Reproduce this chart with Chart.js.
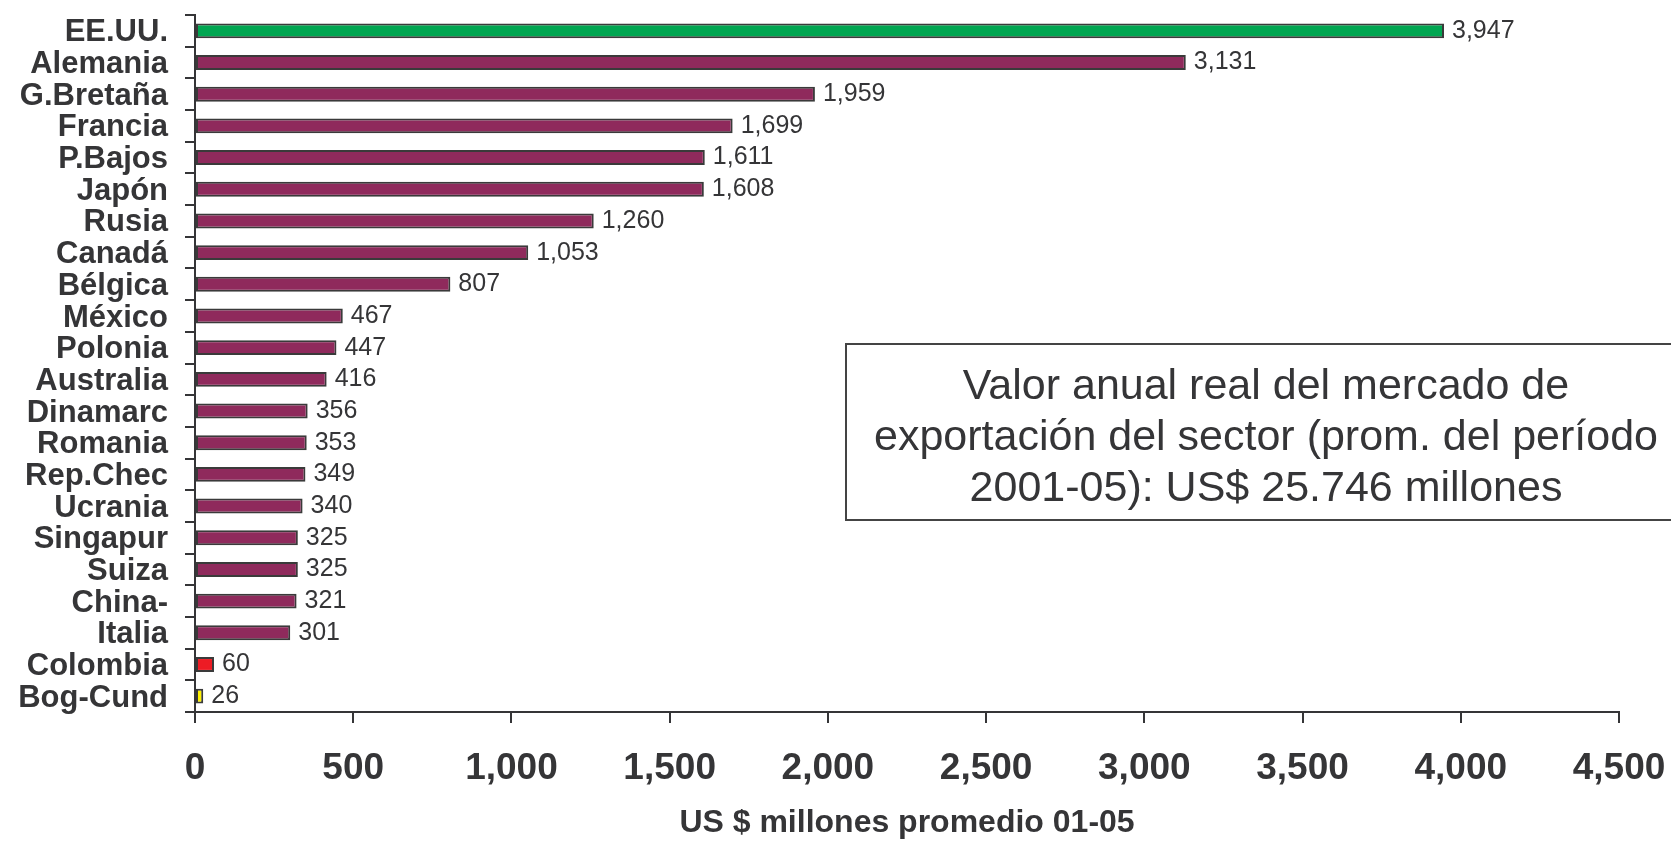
<!DOCTYPE html>
<html lang="es">
<head>
    <meta charset="UTF-8">
    <title>Valor anual del mercado de exportación</title>
    <style>
        html, body {
            margin: 0;
            padding: 0;
            background: #fff;
        }
        canvas {
            display: block;
        }
    </style>
    <script src="https://cdn.jsdelivr.net/npm/chart.js@4.4.1/dist/chart.umd.min.js"></script>
</head>
<body>
    <canvas id="barChart" width="1671" height="843"></canvas>

    <script>
        // Data (US$ millones, promedio 2001-05)
        const countries = ['EE.UU.', 'Alemania', 'G.Bretaña', 'Francia', 'P.Bajos', 'Japón', 'Rusia', 'Canadá',
            'Bélgica', 'México', 'Polonia', 'Australia', 'Dinamarc', 'Romania', 'Rep.Chec', 'Ucrania',
            'Singapur', 'Suiza', 'China-', 'Italia', 'Colombia', 'Bog-Cund'];
        const values = [3947, 3131, 1959, 1699, 1611, 1608, 1260, 1053, 807, 467, 447, 416,
            356, 353, 349, 340, 325, 325, 321, 301, 60, 26];
        const xTicks = [0, 500, 1000, 1500, 2000, 2500, 3000, 3500, 4000, 4500];
        const axisTitle = 'US $ millones promedio 01-05';
        const noteLines = [
            'Valor anual real del mercado de',
            'exportación del sector (prom. del período',
            '2001-05): US$ 25.746 millones'
        ];

        const green = '#00a651';
        const purple = '#8f2a5c';
        const red = '#ed1c24';
        const yellow = '#fff200';
        const ink = '#353537';

        // first bar green, Colombia red, Bogotá-Cundinamarca yellow, rest purple
        const barColors = countries.map(function (c) {
            if (c === 'EE.UU.') return green;
            if (c === 'Colombia') return red;
            if (c === 'Bog-Cund') return yellow;
            return purple;
        });

        const fmt = function (v) {
            return Number(v).toLocaleString('en-US');
        };

        // value labels at the end of each bar
        const valueLabels = {
            id: 'valueLabels',
            afterDatasetsDraw(chart) {
                const ctx = chart.ctx;
                const meta = chart.getDatasetMeta(0);
                ctx.save();
                ctx.font = '25px "Liberation Sans", Arial, sans-serif';
                ctx.fillStyle = ink;
                ctx.textAlign = 'left';
                ctx.textBaseline = 'middle';
                meta.data.forEach(function (bar, i) {
                    ctx.fillText(fmt(values[i]), bar.x + 8, bar.y);
                });
                ctx.restore();
            }
        };

        // boxed note on the right side of the plot
        const noteBox = {
            id: 'noteBox',
            afterDraw(chart) {
                const ctx = chart.ctx;
                const area = chart.chartArea;
                const left = area.left + 651;
                const top = area.top + 329;
                const bottom = area.top + 505;
                ctx.save();
                ctx.fillStyle = '#fff';
                ctx.fillRect(left, top, chart.width + 10 - left, bottom - top);
                ctx.strokeStyle = '#444';
                ctx.lineWidth = 2;
                ctx.strokeRect(left, top, chart.width + 10 - left, bottom - top);
                ctx.font = '43px "Liberation Sans", Arial, sans-serif';
                ctx.fillStyle = ink;
                ctx.textAlign = 'center';
                ctx.textBaseline = 'alphabetic';
                const cx = left + 420;
                noteLines.forEach(function (line, i) {
                    ctx.fillText(line, cx, top + 55 + i * 51);
                });
                ctx.restore();
            }
        };

        const ctx = document.getElementById('barChart').getContext('2d');
        new Chart(ctx, {
            type: 'bar',
            data: {
                labels: countries,
                datasets: [{
                    data: values,
                    backgroundColor: barColors,
                    borderColor: '#3a3a3a',
                    borderWidth: 2,
                    borderSkipped: false,
                    categoryPercentage: 1,
                    barPercentage: 0.47
                }]
            },
            options: {
                indexAxis: 'y',
                responsive: false,
                animation: false,
                layout: {
                    padding: { top: 15, right: 52, left: 0, bottom: 0 }
                },
                plugins: {
                    legend: { display: false },
                    tooltip: { enabled: false }
                },
                scales: {
                    y: {
                        afterFit: function (s) {
                            s.width = 195;
                            s.paddingTop = 0;
                            s.paddingBottom = 0;
                        },
                        grid: {
                            drawOnChartArea: false,
                            tickLength: 10,
                            color: ink,
                            lineWidth: 2
                        },
                        border: { display: true, color: ink, width: 2 },
                        ticks: {
                            padding: 17,
                            labelOffset: 2,
                            color: ink,
                            autoSkip: false,
                            font: { family: '"Liberation Sans", Arial, sans-serif', size: 31, weight: 'bold', lineHeight: 1 }
                        }
                    },
                    x: {
                        min: xTicks[0],
                        max: xTicks[xTicks.length - 1],
                        afterFit: function (s) {
                            s.height = 131;
                            s.paddingLeft = 0;
                            s.paddingRight = 0;
                        },
                        afterBuildTicks: function (s) {
                            s.ticks = xTicks.map(function (v) { return { value: v }; });
                        },
                        grid: {
                            drawOnChartArea: false,
                            tickLength: 11,
                            color: ink,
                            lineWidth: 2
                        },
                        border: { display: true, color: ink, width: 2 },
                        ticks: {
                            padding: 24,
                            color: ink,
                            maxRotation: 0,
                            autoSkip: false,
                            font: { family: '"Liberation Sans", Arial, sans-serif', size: 37, weight: 'bold' },
                            callback: function (v) { return fmt(v); }
                        },
                        title: {
                            display: true,
                            text: axisTitle,
                            color: ink,
                            padding: { top: 0, bottom: 1 },
                            font: { family: '"Liberation Sans", Arial, sans-serif', size: 32, weight: 'bold' }
                        }
                    }
                }
            },
            plugins: [valueLabels, noteBox]
        });
    </script>
</body>
</html>
